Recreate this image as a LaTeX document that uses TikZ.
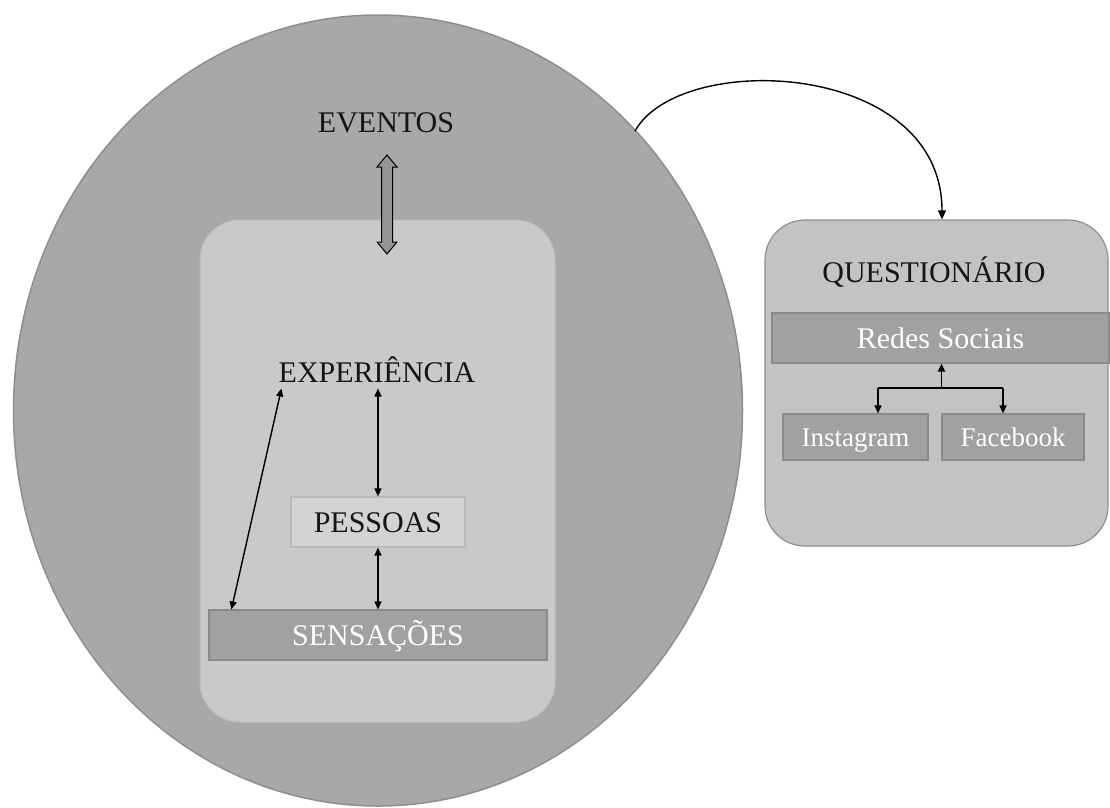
\documentclass[tikz,border=0pt]{standalone}
\usepackage{fontspec}
\setmainfont{Liberation Serif}
\usetikzlibrary{shapes.geometric,arrows.meta}
\definecolor{ellfill}{HTML}{A8A8A8}
\definecolor{elldraw}{HTML}{8E8E8E}
\definecolor{innerfill}{HTML}{C9C9C9}
\definecolor{innerdraw}{HTML}{BEBEBE}
\definecolor{pessfill}{HTML}{D3D3D3}
\definecolor{pessdraw}{HTML}{B9B9B9}
\definecolor{darkfill}{HTML}{A1A1A1}
\definecolor{darkdraw}{HTML}{8A8A8A}
\definecolor{qfill}{HTML}{C3C3C3}
\definecolor{qdraw}{HTML}{8F8F8F}
\definecolor{blockfill}{HTML}{959595}
\definecolor{txt}{HTML}{151515}
\begin{document}
\begin{tikzpicture}[x=1pt,y=-1pt,
  lbl/.style={font=\fontsize{30}{36}\selectfont, text=txt, inner sep=0pt},
  darkbox/.style={draw=darkdraw, line width=1.2pt, fill=darkfill, inner sep=0pt,
    text=white, font=\fontsize{30}{36}\selectfont, text height=20pt, text depth=0pt},
  smallbox/.style={darkbox, font=\fontsize{27}{32}\selectfont, text height=18pt},
  conn/.style={line width=1.4pt, draw=black,
    {Triangle[length=8pt,width=7pt]}-{Triangle[length=8pt,width=7pt]}},
  oneway/.style={line width=1.6pt, draw=black, -{Triangle[length=8pt,width=7pt]}},
  plain/.style={line width=1.6pt, draw=black}]
\useasboundingbox (0,0) rectangle (1110,807);

% big ellipse
\node[ellipse, fill=ellfill, draw=elldraw, line width=1.5pt, inner sep=0pt,
  minimum width=729pt, minimum height=791pt] (evt) at (378,410.5) {};

% inner rounded box
\node[draw=innerdraw, line width=1pt, fill=innerfill, rounded corners=40pt, inner sep=0pt,
  minimum width=355pt, minimum height=502pt] (inner) at (377.5,471) {};

% EVENTOS label and block double arrow
\node[lbl, anchor=base] (eventos) at (386,132) {EVENTOS};
\coordinate (dbl) at (387,204.5);
\draw[draw=black, line width=1pt, fill=blockfill, line join=miter]
  ([shift={(0,-49.5)}]dbl) -- ([shift={(10,-37.5)}]dbl) -- ([shift={(5.5,-37.5)}]dbl)
  -- ([shift={(5.5,37.5)}]dbl) -- ([shift={(10,37.5)}]dbl) -- ([shift={(0,49.5)}]dbl)
  -- ([shift={(-10,37.5)}]dbl) -- ([shift={(-5.5,37.5)}]dbl)
  -- ([shift={(-5.5,-37.5)}]dbl) -- ([shift={(-10,-37.5)}]dbl) -- cycle;

% inner labels / boxes
\node[lbl, anchor=base, inner sep=6pt] (exptext) at (377,382) {EXPERIÊNCIA};
\node[draw=pessdraw, line width=1.2pt, fill=pessfill, inner sep=0pt, text=txt,
  font=\fontsize{30}{36}\selectfont, text height=20pt, text depth=0pt,
  minimum width=174pt, minimum height=50pt]
  (pess) at (378,522) {PESSOAS};
\node[darkbox, minimum width=338pt, minimum height=50pt] (sens) at (378,635) {SENSAÇÕES};

\draw[conn] (exptext.south -| pess.north) -- (pess.north);
\draw[conn] (pess.south) -- (sens.north);
\draw[conn] ([xshift=9pt]exptext.south west) -- ([xshift=23pt]sens.north west);

% right box
\node[draw=qdraw, line width=1.2pt, fill=qfill, rounded corners=40pt, inner sep=0pt,
  minimum width=343pt, minimum height=326pt] (q) at (936.5,383) {};
\node[lbl, anchor=base] (qtext) at (934,282) {QUESTIONÁRIO};
\node[darkbox, minimum width=337pt, minimum height=50pt] (redes) at (940.5,338) {Redes Sociais};
\node[smallbox, minimum width=145pt, minimum height=46pt] (insta) at (855.5,437) {Instagram};
\node[smallbox, minimum width=142pt, minimum height=46pt] (face) at (1013,437) {Facebook};

\coordinate (bm) at (941.5,388);
\coordinate (bl) at (878,388);
\coordinate (brr) at (1003,388);
\draw[oneway] (bm) -- (bm |- redes.south);
\draw[plain] (bl) -- (brr);
\draw[oneway] (bl) -- (bl |- insta.north);
\draw[oneway] (brr) -- (brr |- face.north);

% curved connector from the ellipse to the questionnaire box
\coordinate (cs) at (635,131);
\draw[line width=1.4pt, -{Triangle[length=9pt,width=8pt]}]
  (cs) .. controls (680,50) and (942,60) .. ([xshift=5.5pt]q.north);
\end{tikzpicture}
\end{document}
